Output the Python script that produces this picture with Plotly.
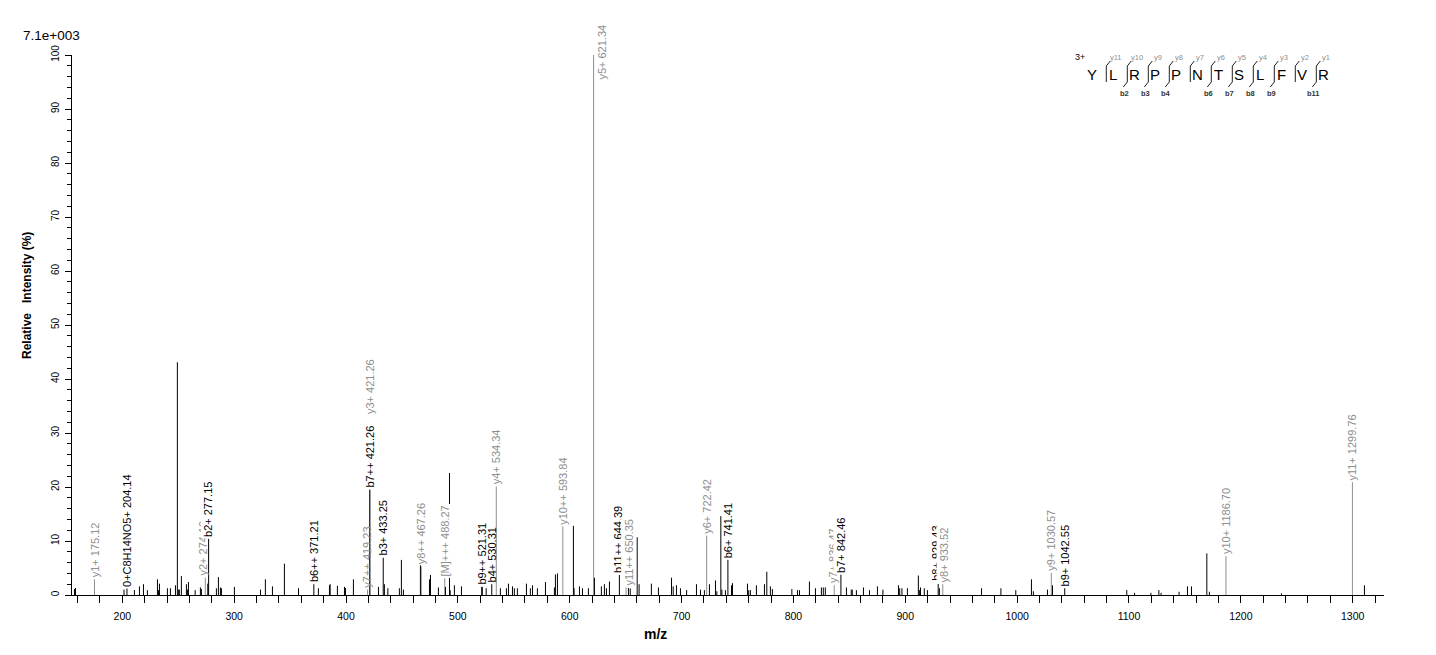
"""MS/MS spectrum of YLRPPNTSLFVR (3+) with annotated b / y fragment ions."""
import plotly.graph_objects as go

# ---------- data: unassigned peaks (m/z, relative intensity %) ----------
peak_mz = [157.2, 158.1, 201.5, 210.8, 215.3, 218.9, 222.4, 231.4, 232.3, 233.2,
           240.3, 243.0, 247.5, 249.2, 250.1, 251.0, 252.8, 257.3, 258.2, 259.1,
           265.1, 269.8, 270.7, 276.4, 284.1, 285.9, 287.7, 288.6, 300.2, 323.5,
           327.9, 334.2, 344.9, 357.5, 375.3, 385.2, 385.8, 392.3, 398.6, 399.5,
           406.6, 429.0, 434.3, 437.4, 447.7, 449.5, 451.3, 466.5, 474.6, 475.5,
           482.6, 488.9, 492.5, 493.1, 496.9, 503.2, 521.8, 525.3, 538.0, 543.4,
           545.2, 548.8, 550.5, 553.2, 561.3, 564.8, 566.7, 571.1, 578.3, 586.3,
           587.2, 589.0, 603.3, 603.9, 608.7, 611.4, 616.7, 622.1, 628.3, 631.0,
           632.8, 635.5, 652.5, 654.1, 660.3, 662.0, 673.0, 679.3, 691.0, 692.5,
           695.4, 699.0, 704.5, 713.3, 716.9, 720.4, 724.9, 730.3, 731.5, 735.1,
           736.0, 739.2, 744.6, 745.5, 758.9, 760.0, 761.5, 766.9, 774.1, 776.2,
           779.4, 781.2, 798.6, 803.6, 805.4, 814.3, 819.7, 825.0, 826.7, 828.5,
           847.4, 851.7, 852.6, 856.3, 862.6, 868.0, 875.1, 880.0, 893.9, 895.0,
           897.0, 901.9, 911.7, 912.6, 913.6, 917.0, 919.8, 930.5, 968.2, 985.5,
           998.8, 1012.8, 1014.5, 1027.1, 1031.6, 1098.0, 1105.0, 1119.6, 1126.7, 1128.7,
           1144.8, 1152.3, 1155.9, 1169.6, 1171.9, 1236.3, 1310.5]
peak_int = [1.1, 1.3, 1.0, 0.9, 1.6, 2.0, 0.9, 2.9, 0.9, 2.1,
            1.25, 1.25, 1.8, 43.1, 1.0, 1.0, 3.5, 2.0, 1.0, 2.4,
            0.9, 1.4, 1.1, 2.1, 1.25, 3.3, 1.4, 1.25, 1.5, 1.0,
            2.9, 1.6, 5.8, 1.25, 1.25, 1.8, 2.0, 1.7, 1.5, 1.3,
            2.9, 1.5, 2.0, 1.25, 1.25, 6.5, 1.0, 5.5, 2.9, 3.7,
            1.4, 1.5, 22.6, 0.9, 1.8, 1.6, 1.5, 1.25, 1.25, 1.25,
            2.1, 1.6, 1.25, 1.25, 2.1, 1.25, 1.8, 1.25, 2.4, 1.4,
            3.8, 4.0, 12.8, 1.25, 1.6, 1.25, 1.25, 3.2, 1.6, 2.0,
            1.25, 2.5, 1.3, 1.2, 10.7, 2.0, 2.1, 1.4, 3.2, 1.6,
            1.8, 1.25, 0.9, 2.0, 1.0, 0.9, 2.0, 2.7, 0.7, 14.6,
            1.0, 0.9, 1.8, 2.2, 2.1, 0.9, 0.9, 1.8, 2.0, 4.3,
            1.6, 1.1, 1.1, 0.9, 0.9, 2.5, 1.25, 1.4, 1.4, 1.4,
            1.4, 1.0, 1.0, 0.9, 1.4, 0.9, 1.6, 1.0, 1.8, 1.25,
            1.25, 1.25, 3.6, 0.9, 1.4, 1.25, 0.9, 1.25, 1.25, 1.25,
            0.9, 2.9, 0.7, 1.0, 1.8, 0.9, 0.4, 0.4, 0.9, 0.4,
            0.6, 1.6, 1.6, 7.7, 0.6, 0.3, 1.8]

# ---------- data: assigned fragment ions ----------
ion_labels = ["y1+ 175.12", "0+C8H14NO5+ 204.14", "y2+ 274.19", "b2+ 277.15",
              "b6++ 371.21", "y7++ 419.23", "b7++ 421.26", "y3+ 421.26",
              "b3+ 433.25", "y8++ 467.26", "[M]+++ 488.27", "b9++ 521.31",
              "b4+ 530.31", "y4+ 534.34", "y10++ 593.84", "y5+ 621.34",
              "b11++ 644.39", "y11++ 650.35", "y6+ 722.42", "b6+ 741.41",
              "y7+ 836.47", "b7+ 842.46", "b8+ 929.43", "y8+ 933.52",
              "y9+ 1030.57", "b9+ 1042.55", "y10+ 1186.70", "y11+ 1299.76"]
ion_mz = [175.12, 204.14, 274.19, 277.15, 371.21, 419.23, 421.26, 421.26,
          433.25, 467.26, 488.27, 521.31, 530.31, 534.34, 593.84, 621.34,
          644.39, 650.35, 722.42, 741.41, 836.47, 842.46, 929.43, 933.52,
          1030.57, 1042.55, 1186.70, 1299.76]
ion_int = [2.9, 1.2, 3.2, 10.4, 2.0, 1.0, 19.5, 19.5,
           6.9, 5.3, 3.1, 1.5, 2.0, 20.1, 12.7, 100.0,
           3.7, 1.4, 11.0, 6.5, 1.8, 3.8, 2.2, 2.0,
           4.1, 1.25, 7.2, 20.9]
ion_series = ["y", "other", "y", "b", "b", "y", "b", "y",
              "b", "y", "M", "b", "b", "y", "y", "y",
              "b", "y", "y", "b", "y", "b", "b", "y",
              "y", "b", "y", "y"]

# ---------- data: peptide sequence coverage ----------
sequence = list("YLRPPNTSLFVR")
precursor_charge = "3+"
b_ions_seen = [2, 3, 4, 6, 7, 8, 9, 11]
y_ions_seen = [11, 10, 9, 8, 7, 6, 5, 4, 3, 2, 1]
base_peak_text = "7.1e+003"

FONT = "Arial, Liberation Sans, sans-serif"
BLACK = "#000000"
GREY = "#8e8e8e"
PAGE_OFF = 8            # default body margin of the html page
W, H = 1436 - PAGE_OFF, 655 - PAGE_OFF
M_L, M_R, M_T, M_B = 64, 52, 47, 60


def px_x(x):
    """page pixel column -> paper x"""
    return (x - PAGE_OFF - M_L) / (W - M_L - M_R)


def px_y(y):
    """page pixel row -> paper y"""
    return (H - M_B - (y - PAGE_OFF)) / (H - M_T - M_B)


def paper_text(x, y, text, size, color=BLACK, angle=0):
    return dict(x=px_x(x), y=px_y(y), xref="paper", yref="paper", text=text,
                textangle=angle, showarrow=False, xanchor="center", yanchor="middle",
                font=dict(family=FONT, size=size, color=color))


def sticks(xs, ys):
    lx, ly = [], []
    for m, h in zip(xs, ys):
        lx += [m, m, None]
        ly += [0, h, None]
    return lx, ly


fig = go.Figure()

grey_mz = [m for m, s in zip(ion_mz, ion_series) if s in ("y", "M")]
grey_int = [h for h, s in zip(ion_int, ion_series) if s in ("y", "M")]
black_mz = peak_mz + [m for m, s in zip(ion_mz, ion_series) if s not in ("y", "M")]
black_int = peak_int + [h for h, s in zip(ion_int, ion_series) if s not in ("y", "M")]

gx, gy = sticks(grey_mz, grey_int)
fig.add_trace(go.Scatter(x=gx, y=gy, mode="lines", line=dict(color=GREY, width=1),
                         hoverinfo="skip", showlegend=False))
bx, by = sticks(black_mz, black_int)
fig.add_trace(go.Scatter(x=bx, y=by, mode="lines", line=dict(color=BLACK, width=1),
                         hoverinfo="skip", showlegend=False))

# peak labels; some sit on top of neighbours and hide them (white box)
covering = {"b2+ 277.15", "[M]+++ 488.27", "y11++ 650.35", "b7+ 842.46", "y8+ 933.52"}
nudge = {"y2+ 274.19": -2, "b11++ 644.39": -2, "y11++ 650.35": 3,
         "y7+ 836.47": -1, "b8+ 929.43": -3, "y8+ 933.52": 1}
annotations = []
for lab, m, h, s in zip(ion_labels, ion_mz, ion_int, ion_series):
    ann = dict(x=m, y=h, xref="x", yref="y", text=lab, textangle=-90,
               showarrow=False, xanchor="center", yanchor="bottom",
               xshift=nudge.get(lab, 0),
               font=dict(family=FONT, size=11, color=GREY if s in ("y", "M") else BLACK),
               borderpad=1)
    if lab in covering:
        ann["bgcolor"] = "white"
    if lab == "y3+ 421.26":  # stacked above b7++ label on the same peak
        ann["yshift"] = 74
    if lab == "y5+ 621.34":  # base peak: label beside the line at the top
        ann.update(yanchor="middle", xshift=8, yshift=3)
    annotations.append(ann)

# axis titles and base-peak intensity
annotations.append(paper_text(27, 296, "<b>Relative\u00a0\u00a0\u00a0Intensity (%)</b>", 12, angle=-90))
annotations.append(paper_text(655, 634, "<b>m/z</b>", 14))
annotations.append(paper_text(51, 35, base_peak_text, 13.5))

# ---------- sequence coverage glyph (top right) ----------
seq_x0, seq_step, seq_y = 1092.3, 21.0, 74.0
shapes = []
annotations.append(paper_text(1080, 57, precursor_charge, 9))
for k, aa in enumerate(sequence):
    annotations.append(paper_text(seq_x0 + k * seq_step, seq_y, aa, 15))
mark = dict(color="#222222", width=1)
for k in range(1, len(sequence)):
    xb = seq_x0 + k * seq_step - 7
    shapes.append(dict(type="line", xref="paper", yref="paper", line=mark,
                       x0=px_x(xb), x1=px_x(xb), y0=px_y(66), y1=px_y(82)))
    yi = len(sequence) - k
    if yi in y_ions_seen:
        shapes.append(dict(type="line", xref="paper", yref="paper", line=mark,
                           x0=px_x(xb), x1=px_x(xb + 4), y0=px_y(66), y1=px_y(61)))
        annotations.append(paper_text(xb + 10, 58, f"y{yi}", 7.5, GREY))
    if k in b_ions_seen:
        shapes.append(dict(type="line", xref="paper", yref="paper", line=mark,
                           x0=px_x(xb), x1=px_x(xb - 4), y0=px_y(82), y1=px_y(87)))
        annotations.append(paper_text(xb - 3, 93, f"<b>b{k}</b>", 7.5, "#333333"))

fig.update_layout(
    width=W, height=H,
    margin=dict(l=M_L, r=M_R, t=M_T, b=M_B),
    plot_bgcolor="white", paper_bgcolor="white",
    annotations=annotations, shapes=shapes,
    font=dict(family=FONT, color=BLACK),
    showlegend=False,
)
fig.update_xaxes(range=[155, 1328], showgrid=False, zeroline=False,
                 showline=True, linecolor=BLACK, linewidth=1,
                 tick0=0, dtick=100, ticks="outside", ticklen=7, tickcolor=BLACK,
                 ticklabelstandoff=4, tickfont=dict(family=FONT, size=10.5, color=BLACK),
                 minor=dict(dtick=20, ticks="outside", ticklen=7, tickcolor=BLACK))
fig.update_yaxes(range=[0, 100], showgrid=False, zeroline=False,
                 showline=True, linecolor=BLACK, linewidth=1,
                 tick0=0, dtick=10, ticks="outside", ticklen=6, tickcolor=BLACK,
                 tickangle=-90, ticklabelstandoff=2,
                 tickfont=dict(family=FONT, size=10, color=BLACK),
                 minor=dict(dtick=2, ticks="outside", ticklen=4, tickcolor=BLACK))

fig.write_html("out.html")
